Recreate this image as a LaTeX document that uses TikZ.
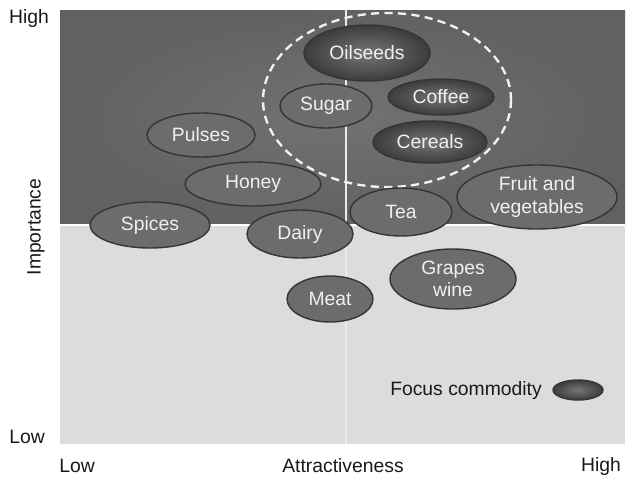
\documentclass[tikz,border=0pt]{standalone}
\usepackage{fontspec}
\setmainfont{Liberation Sans}
\usetikzlibrary{shapes.geometric}

\definecolor{quadtop}{HTML}{727272}
\definecolor{quadedge}{HTML}{616161}
\definecolor{quadlow}{HTML}{DCDCDC}
\definecolor{cropfill}{HTML}{6C6C6C}
\definecolor{cropedge}{HTML}{353535}
\definecolor{focusin}{HTML}{767676}
\definecolor{focusout}{HTML}{3C3C3C}

\begin{document}
\begin{tikzpicture}[
    x=0.03cm, y=-0.03cm,
    every node/.style={font=\fontsize{16.5}{19}\selectfont, text=black!90},
    size/.style 2 args={minimum width=#1*0.06cm, minimum height=#2*0.06cm},
    crop/.style={ellipse, draw=cropedge, line width=1.2pt, fill=cropfill,
                 text=white!94!black, inner sep=0pt, align=center},
    focus/.style={crop, shading=radial, inner color=focusin, outer color=focusout}
]

\useasboundingbox (0,0) rectangle (627,477);

\def\xl{60}
\def\xr{625}
\def\yt{10}
\def\yb{444}
\def\midx{346}
\def\midy{225}

% Upper half
\fill[shading=radial, inner color=quadtop, outer color=quadedge]
      (\xl,\yt) rectangle (\xr,\midy);
% Lower half
\fill[quadlow] (\xl,\midy) rectangle (\xr,\yb);

\draw[white, line width=2.4pt] (\xl,\midy) -- (\xr,\midy);
\draw[white!92!black, line width=1.1pt] (\midx,\yt) -- (\midx,\yb);

% focus group
\draw[white!95!black, line width=2pt, dash pattern=on 7pt off 4.5pt]
      (387,100) ellipse [x radius=124, y radius=87];

\node[focus, size={63}{28}] (oilseeds) at (367,53) {Oilseeds};
\node[focus, size={53}{18}] (coffee) at (441,97) {Coffee};
\node[focus, size={57}{21}] (cereals) at (430,142) {Cereals};
\node[crop, size={46}{22}] (sugar) at (326,106) {Sugar};

\node[crop, size={54}{22}] (pulses) at (201,135) {Pulses};
\node[crop, size={68}{22}] (honey) at (253,184) {Honey};
\node[crop, size={60}{23}] (spices) at (150,225) {Spices};
\node[crop, size={53}{24}] (dairy) at (300,234) {Dairy};
\node[crop, size={51}{24}] (tea) at (401,212) {Tea};
\node[crop, size={80}{32}] (fruit) at (537,197) {Fruit and\\vegetables};
\node[crop, size={63}{30}] (grapes) at (453,279) {Grapes\\wine};
\node[crop, size={43}{23}] (meat) at (330,299) {Meat};

% legend
\node (focuslbl) at (466,390) {Focus commodity};
\node[focus, size={25}{10}] (focuskey) at (578,390) {};

% axes
\node (highy) at (29,19) {High};
\node (lowy) at (27,437) {Low};
\node[rotate=90] (importance) at (36,227) {Importance};
\node (lowx) at (77,466) {Low};
\node (attract) at (343,466) {Attractiveness};
\node (highx) at (601,466) {High};

\end{tikzpicture}
\end{document}
